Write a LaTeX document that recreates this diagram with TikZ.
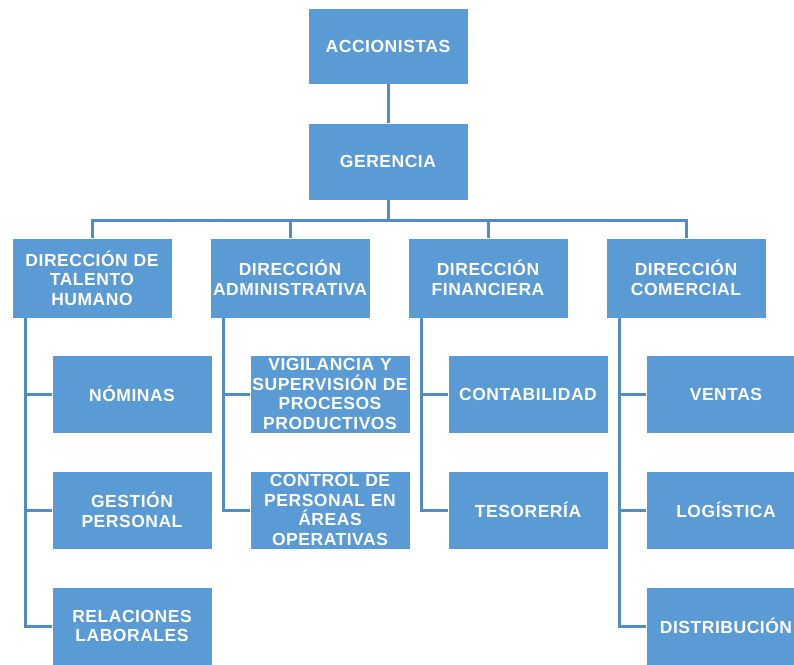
\documentclass[tikz,border=0pt]{standalone}
\usepackage{fontspec}
\setmainfont[LetterSpace=3]{Liberation Sans}
\usetikzlibrary{positioning,calc}
\definecolor{boxblue}{RGB}{91,155,213}
\definecolor{lineblue}{RGB}{82,140,200}

\begin{document}
\begin{tikzpicture}[x=1pt,y=-1pt,
  box/.style={draw=white, line width=0.6pt, fill=boxblue, text=white,
    font=\fontsize{17.5}{19.5}\selectfont\bfseries, align=center,
    minimum width=160pt, minimum height=78pt, text width=159pt, inner sep=0.5pt},
  link/.style={lineblue, line width=3pt}]
  \useasboundingbox (0,0) rectangle (794,664);
  % top
  \node[box, minimum height=76pt] (acc) at (388,46) {ACCIONISTAS};
  \node[box, minimum height=77pt] (ger) at (388,161.5) {GERENCIA};
  % direcciones
  \node[box, minimum height=80pt] (dth) at (92,278) {DIRECCIÓN DE\\TALENTO\\HUMANO};
  \node[box, minimum height=80pt] (dad) at (290,278) {DIRECCIÓN\\ADMINISTRATIVA};
  \node[box, minimum height=80pt] (dfi) at (488,278) {DIRECCIÓN\\FINANCIERA};
  \node[box, minimum height=80pt] (dco) at (686,278) {DIRECCIÓN\\COMERCIAL};
  % areas
  \node[box] (nom) at (132,394) {NÓMINAS};
  \node[box] (gper) at (132,510) {GESTIÓN\\PERSONAL};
  \node[box] (rel) at (132,626) {RELACIONES\\LABORALES};
  \node[box] (vig) at (330,394) {VIGILANCIA Y\\SUPERVISIÓN DE\\PROCESOS\\PRODUCTIVOS};
  \node[box] (cper) at (330,510) {CONTROL DE\\PERSONAL EN\\ÁREAS\\OPERATIVAS};
  \node[box] (cont) at (528,394) {CONTABILIDAD};
  \node[box] (tes) at (528,510) {TESORERÍA};
  \node[box] (ven) at (726,394) {VENTAS};
  \node[box] (log) at (726,510) {LOGÍSTICA};
  \node[box] (dis) at (726,626) {DISTRIBUCIÓN};
  % connectors
  \draw[link] (acc) -- (ger);
  \foreach \d in {dth,dad,dfi,dco}
    \draw[link] (ger.south) -- ++(0,20) -| (\d.north);
  \foreach \d/\a in {dth/nom,dth/gper,dth/rel,dad/vig,dad/cper,dfi/cont,dfi/tes,dco/ven,dco/log,dco/dis}
    \draw[link] ([xshift=14pt]\d.south west) |- (\a.west);
\end{tikzpicture}
\end{document}
